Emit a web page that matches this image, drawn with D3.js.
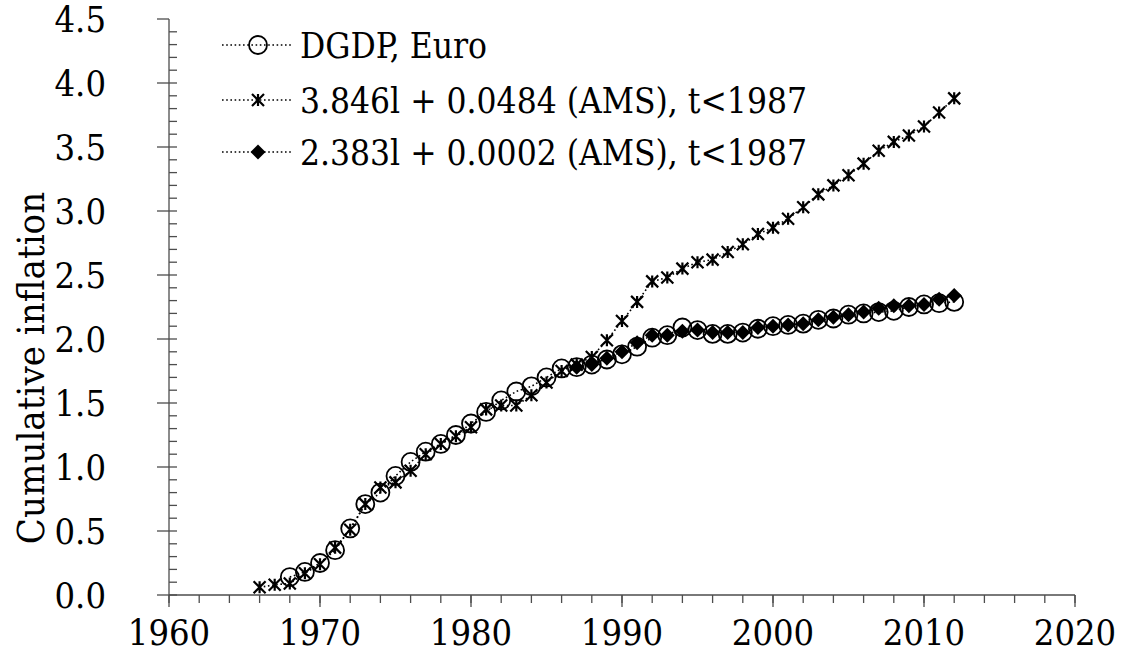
<!DOCTYPE html>
<html>
<head>
<meta charset="utf-8">
<script src="https://cdn.jsdelivr.net/npm/d3@7"></script>
<style>
  body { margin: 0; background: #fff; }
  svg text { font-family: 'DejaVu Serif Condensed', 'DejaVu Serif', serif; fill: #000; }
</style>
</head>
<body>
<div id="chart"></div>
<script>
// chart data
const years = d3.range(1966, 2013);

// DGDP, Euro (starts 1968)
const dgdpYears = d3.range(1968, 2013);
const dgdpValues = [
  0.14, 0.18, 0.25, 0.35, 0.52, 0.71, 0.80, 0.93, 1.04, 1.12,
  1.18, 1.25, 1.34, 1.43, 1.52, 1.59, 1.63, 1.70, 1.77, 1.78,
  1.80, 1.84, 1.88, 1.94, 2.01, 2.03, 2.09, 2.07, 2.04, 2.04,
  2.05, 2.08, 2.10, 2.11, 2.12, 2.15, 2.16, 2.19, 2.20, 2.21,
  2.22, 2.25, 2.27, 2.28, 2.29
];

// 3.846l + 0.0484 (AMS), 1966-2012
const amsAValues = [
  0.06, 0.08, 0.09, 0.17, 0.24, 0.37, 0.51, 0.71, 0.84, 0.88,
  0.97, 1.10, 1.18, 1.24, 1.31, 1.45, 1.48, 1.48, 1.56, 1.66,
  1.75, 1.80, 1.86, 1.99, 2.14, 2.29, 2.45, 2.48, 2.55, 2.60,
  2.62, 2.68, 2.74, 2.82, 2.87, 2.94, 3.03, 3.13, 3.20, 3.28,
  3.37, 3.47, 3.54, 3.59, 3.66, 3.77, 3.88
];

// 2.383l + 0.0002 (AMS), shown from 1987
const amsBYears = d3.range(1987, 2013);
const amsBValues = [
  1.78, 1.80, 1.85, 1.90, 1.97, 2.03, 2.03, 2.06, 2.07, 2.05,
  2.05, 2.05, 2.09, 2.10, 2.11, 2.12, 2.15, 2.17, 2.19, 2.21,
  2.24, 2.26, 2.26, 2.27, 2.31, 2.34
];

const legendLabels = [
  'DGDP, Euro',
  '3.846l + 0.0484 (AMS), t<1987',
  '2.383l + 0.0002 (AMS), t<1987'
];
const yTicks = d3.range(0, 4.51, 0.5);
const xTicks = d3.range(1960, 2021, 10);

const width = 1126;
const height = 661;

const x = d3.scaleLinear().domain([1960, 2020]).range([169, 1075]);
const y = d3.scaleLinear().domain([0, 4.5]).range([595, 19]);

const svg = d3.select('#chart').append('svg')
  .attr('width', width)
  .attr('height', height);

const axisColor = '#4d4d4d';

// y axis: major ticks outside, minor ticks inside
const yAxis = svg.append('g').attr('stroke', axisColor).attr('stroke-width', 1.3);
yAxis.append('line')
  .attr('x1', x(1960)).attr('x2', x(1960))
  .attr('y1', y(4.5)).attr('y2', y(0));
yAxis.selectAll('line.minor')
  .data(d3.range(0, 45).map(d => d / 10))
  .enter().append('line')
  .attr('class', 'minor')
  .attr('x1', x(1960)).attr('x2', x(1960) + 8)
  .attr('y1', d => y(d)).attr('y2', d => y(d));
yAxis.selectAll('line.major')
  .data(yTicks)
  .enter().append('line')
  .attr('class', 'major')
  .attr('x1', x(1960) - 12).attr('x2', x(1960))
  .attr('y1', d => y(d)).attr('y2', d => y(d));

svg.selectAll('text.ytick')
  .data(yTicks)
  .enter().append('text')
  .attr('class', 'ytick')
  .attr('x', 106)
  .attr('y', d => y(d))
  .attr('dy', '0.36em')
  .attr('text-anchor', 'end')
  .style('font-size', '36px')
  .text(d => d.toFixed(1));

// x axis: ticks below
const xAxis = svg.append('g').attr('stroke', axisColor).attr('stroke-width', 1.3);
xAxis.append('line')
  .attr('x1', x(1960)).attr('x2', x(2020))
  .attr('y1', y(0)).attr('y2', y(0));
xAxis.selectAll('line.minor')
  .data(d3.range(1960, 2021, 2))
  .enter().append('line')
  .attr('x1', d => x(d)).attr('x2', d => x(d))
  .attr('y1', y(0)).attr('y2', y(0) + 8);
xAxis.selectAll('line.major')
  .data(xTicks)
  .enter().append('line')
  .attr('x1', d => x(d)).attr('x2', d => x(d))
  .attr('y1', y(0)).attr('y2', y(0) + 12);

svg.selectAll('text.xtick')
  .data(xTicks)
  .enter().append('text')
  .attr('class', 'xtick')
  .attr('x', d => x(d))
  .attr('y', 645)
  .attr('text-anchor', 'middle')
  .style('font-size', '36px')
  .text(d => d);

svg.append('text')
  .attr('transform', 'translate(44,368) rotate(-90)')
  .attr('text-anchor', 'middle')
  .style('font-size', '38px')
  .text('Cumulative inflation');

// markers
const starPath = s => `M0,${-s}V${s}M${-s},${-s}L${s},${s}M${-s},${s}L${s},${-s}`;

function drawCircle(g, cx, cy) {
  g.append('circle').attr('cx', cx).attr('cy', cy).attr('r', 9)
    .attr('fill', 'none').attr('stroke', '#000').attr('stroke-width', 1.8);
}
function drawStar(g, cx, cy) {
  g.append('path').attr('d', starPath(6)).attr('transform', `translate(${cx},${cy})`)
    .attr('fill', 'none').attr('stroke', '#000').attr('stroke-width', 2.2);
}
function drawDiamond(g, cx, cy) {
  g.append('path').attr('d', 'M0,-7.5L7.5,0L0,7.5L-7.5,0Z').attr('transform', `translate(${cx},${cy})`)
    .attr('fill', '#000');
}

const series = [
  { xs: dgdpYears, ys: dgdpValues, mark: drawCircle },
  { xs: years, ys: amsAValues, mark: drawStar },
  { xs: amsBYears, ys: amsBValues, mark: drawDiamond }
];

const line = d3.line().x(d => x(d[0])).y(d => y(d[1]));

series.forEach(s => {
  const pts = s.xs.map((yr, i) => [yr, s.ys[i]]);
  const g = svg.append('g');
  g.append('path')
    .attr('d', line(pts))
    .attr('fill', 'none')
    .attr('stroke', '#000')
    .attr('stroke-width', 1.6)
    .attr('stroke-dasharray', '1.6,2.6');
  pts.forEach(p => s.mark(g, x(p[0]), y(p[1])));
});

// legend
const legendY = [45, 100, 152];
series.forEach((s, i) => {
  const g = svg.append('g');
  g.append('line')
    .attr('x1', 222).attr('x2', 292)
    .attr('y1', legendY[i]).attr('y2', legendY[i])
    .attr('stroke', '#000').attr('stroke-width', 1.6)
    .attr('stroke-dasharray', '1.6,2.6');
  s.mark(g, 258, legendY[i]);
  g.append('text')
    .attr('x', 300).attr('y', legendY[i])
    .attr('dy', '0.36em')
    .style('font-size', '35px')
    .text(legendLabels[i]);
});
</script>
</body>
</html>
